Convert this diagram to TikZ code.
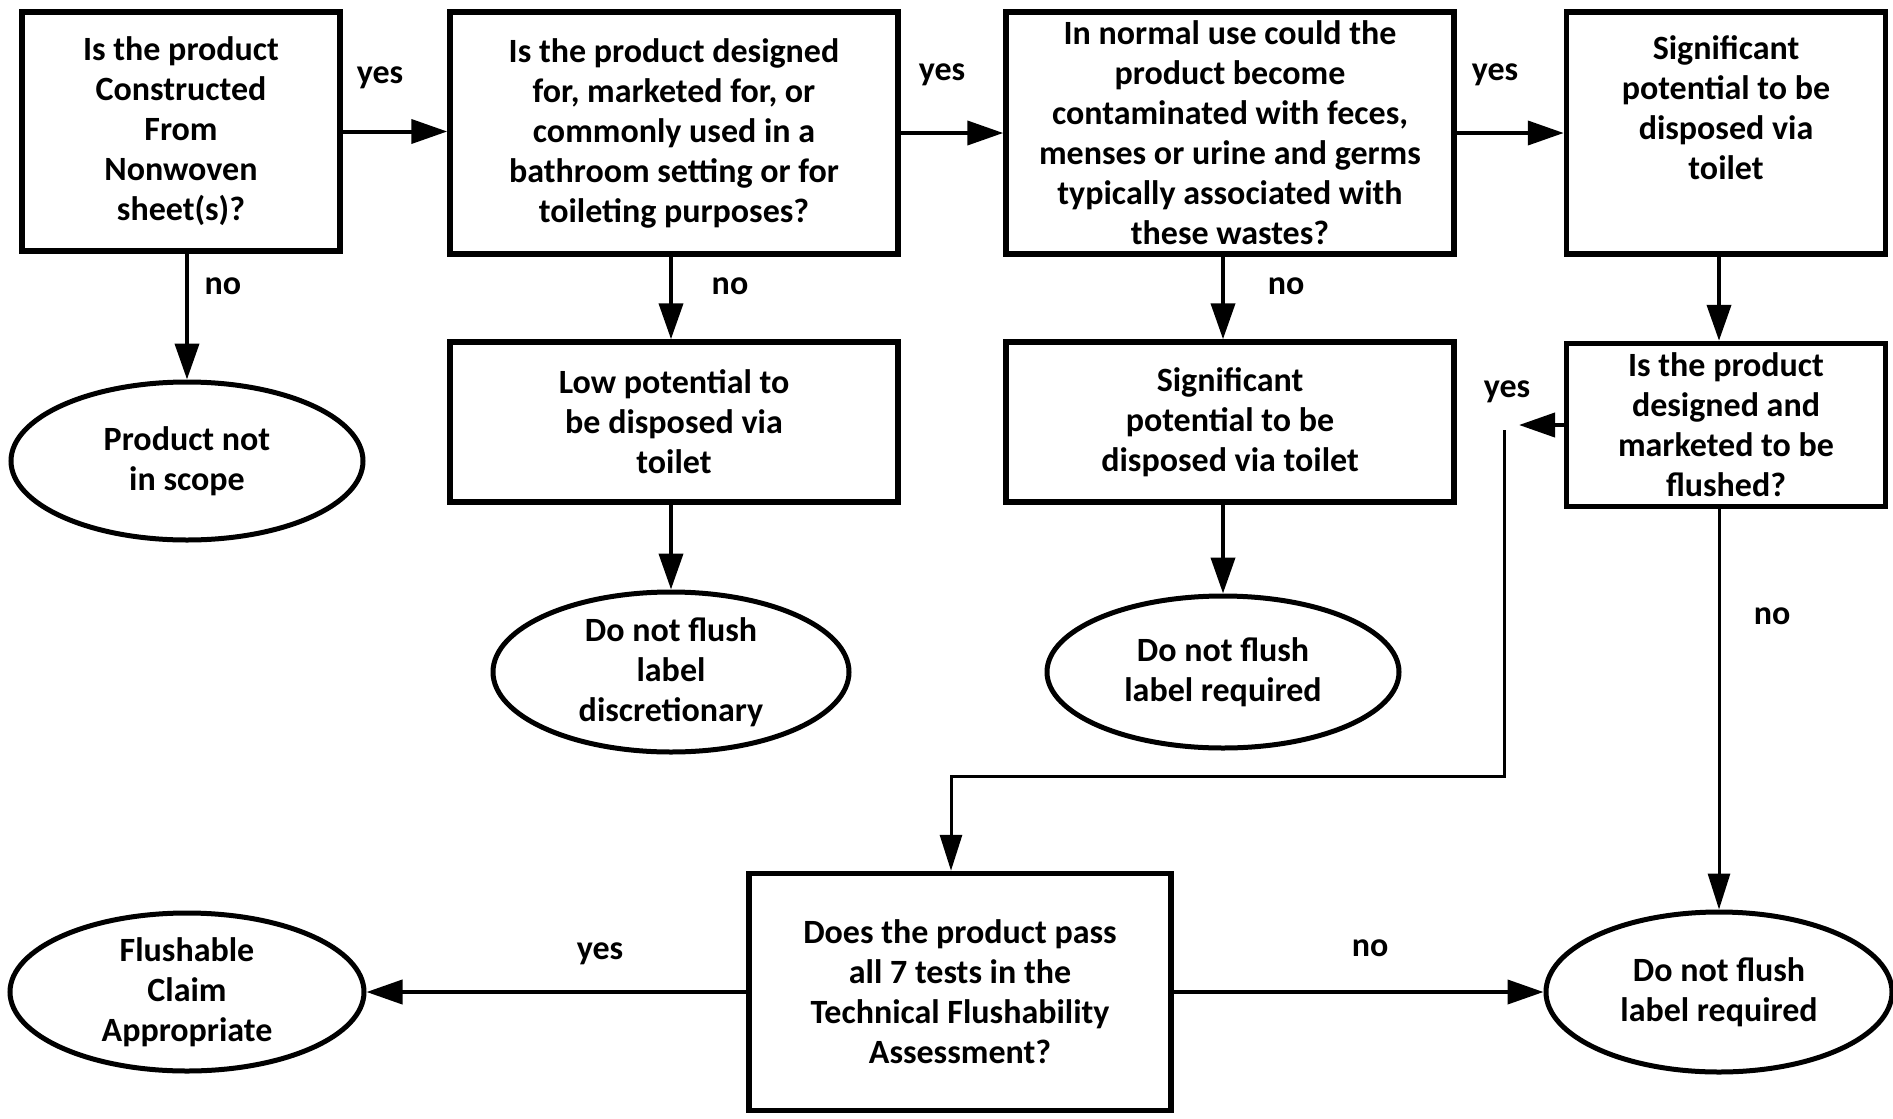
\documentclass[tikz,border=0pt]{standalone}
\usepackage{fontspec}
\setmainfont{Carlito}
\usetikzlibrary{arrows.meta,shapes.geometric}
\newcommand\fs{\fontsize{34}{40}\selectfont\bfseries}
\begin{document}
\begin{tikzpicture}[x=1pt,y=-1pt,
  box/.style={draw, line width=5.5pt, rectangle, align=center, inner sep=0pt, font=\fs},
  oval/.style={draw, line width=5pt, ellipse, align=center, inner sep=0pt, font=\fs},
  arr/.style={line width=4pt, -{Triangle[length=36pt,width=24pt]}},
  thinarr/.style={line width=3pt, -{Triangle[length=36pt,width=22pt]}},
  lbl/.style={font=\fs}]
\useasboundingbox (0,0) rectangle (1893,1119);
% boxes
\node[box, minimum width=318pt, minimum height=239pt] (b1) at (181,131.5)
  {Is the product\\Constructed\\From\\Nonwoven\\sheet(s)?};
\node[box, minimum width=448pt, minimum height=242pt] (b2) at (674,133)
  {Is the product designed\\for, marketed for, or\\commonly used in a\\bathroom setting or for\\toileting purposes?};
\node[box, minimum width=448pt, minimum height=242pt] (b3) at (1230,133)
  {In normal use could the\\product become\\contaminated with feces,\\menses or urine and germs\\typically associated with\\these wastes?};
\node[box, minimum width=319pt, minimum height=242pt] (b4) at (1726,133)
  {Significant\\potential to be\\disposed via\\toilet\\[10pt] \mbox{}};
\node[box, minimum width=448pt, minimum height=160pt] (b5) at (674,422)
  {Low potential to\\be disposed via\\toilet};
\node[box, minimum width=448pt, minimum height=160pt] (b6) at (1230,422)
  {Significant\\potential to be\\disposed via toilet};
\node[box, minimum width=319pt, minimum height=163pt] (b7) at (1726,425)
  {Is the product\\designed and\\marketed to be\\flushed?};
\node[box, minimum width=422pt, minimum height=237pt] (b8) at (960,992)
  {Does the product pass\\all 7 tests in the\\Technical Flushability\\Assessment?};
% ovals
\node[oval, minimum width=352pt, minimum height=158pt] (e1) at (187,461) {Product not\\in scope};
\node[oval, minimum width=356pt, minimum height=160pt] (e2) at (671,672) {Do not flush\\label\\discretionary};
\node[oval, minimum width=352pt, minimum height=152pt] (e3) at (1223,672) {Do not flush\\label required};
\node[oval, minimum width=354pt, minimum height=158pt] (e4) at (187,992) {Flushable\\Claim\\Appropriate};
\node[oval, minimum width=346pt, minimum height=160pt] (e5) at (1719,992) {Do not flush\\label required};
% connectors
\draw[arr] (b1.east) -- (b2.west |- b1.east);
\draw[arr] (b2.east) -- (b3.west);
\draw[arr] (b3.east) -- (b4.west);
\draw[arr] (b1.south -| e1.north) -- (e1.north);
\draw[arr] (b2.south -| e2.north) -- (b5.north -| e2.north);
\draw[arr] (b5.south -| e2.north) -- (e2.north);
\draw[arr] (b3.south -| e3.north) -- (b6.north -| e3.north);
\draw[arr] (b6.south -| e3.north) -- (e3.north);
\draw[arr] (b4.south -| e5.north) -- (b7.north -| e5.north);
\draw[thinarr] (b7.south -| e5.north) -- (e5.north);
\coordinate (t1) at (1519,425);
\coordinate (c1) at (1504,430);
\coordinate (c2) at (1504,776);
\coordinate (c3) at (951,776);
\draw[arr] (b7.west |- t1) -- (t1);
\draw[thinarr] (c1) -- (c2) -- (c3) -- (c3 |- b8.north);
\draw[arr] (b8.west) -- (e4.east);
\draw[arr] (b8.east) -- (e5.west);
% labels
\node[lbl] (l1) at (380,78) {yes};
\node[lbl] (l2) at (942,75) {yes};
\node[lbl] (l3) at (1495,75) {yes};
\node[lbl] (l4) at (223,286) {no};
\node[lbl] (l5) at (730,286) {no};
\node[lbl] (l6) at (1286,286) {no};
\node[lbl] (l7) at (1507,392) {yes};
\node[lbl] (l8) at (1772,616) {no};
\node[lbl] (l9) at (600,954) {yes};
\node[lbl] (l10) at (1370,948) {no};
\end{tikzpicture}
\end{document}
